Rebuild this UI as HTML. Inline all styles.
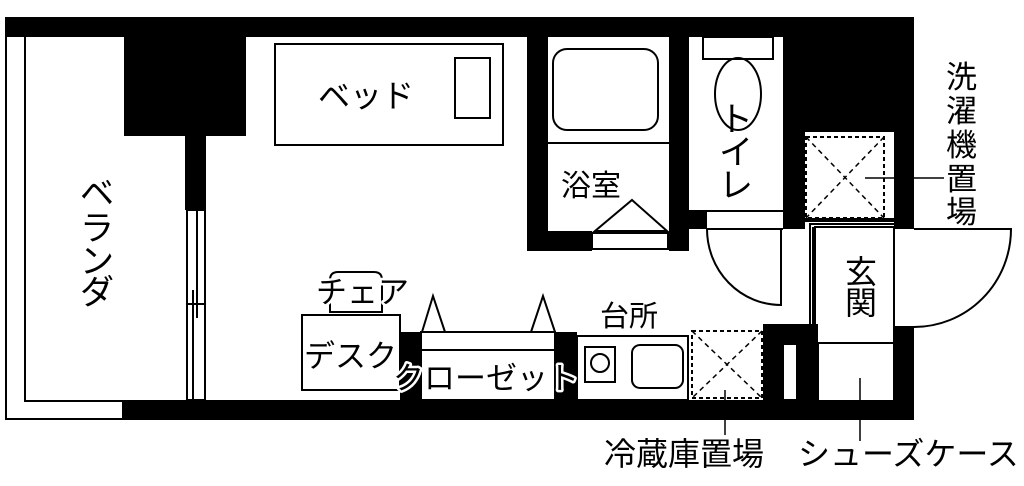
<!DOCTYPE html>
<html><head><meta charset="utf-8"><style>
html,body{margin:0;padding:0;background:#fff;}
svg{display:block;}
text{font-family:"Liberation Sans","Noto Sans CJK JP",sans-serif;fill:#000;}
.h{stroke:#fff;stroke-width:5;paint-order:stroke;stroke-linejoin:round;}
</style></head><body>
<svg width="1024" height="486" viewBox="0 0 1024 486" xmlns="http://www.w3.org/2000/svg">
<g fill="#000">
<rect x="5" y="17" width="909" height="20"/>
<rect x="124" y="37" width="122" height="99"/>
<rect x="185" y="136" width="21" height="74"/>
<rect x="122" y="400" width="792" height="20"/>
<rect x="894" y="37" width="20" height="192"/>
<rect x="894" y="327" width="20" height="93"/>
<rect x="783" y="37" width="111" height="95"/>
<rect x="783" y="132" width="22" height="97"/>
<rect x="783" y="218" width="111" height="4"/>
<rect x="527" y="37" width="21" height="214"/>
<rect x="548" y="231" width="44" height="20"/>
<rect x="669" y="37" width="20" height="214"/>
<rect x="689" y="211" width="18" height="18"/>
<rect x="400" y="332" width="21" height="68"/>
<rect x="555" y="332" width="22" height="68"/>
<rect x="763" y="324" width="55" height="76"/>
</g>
<g fill="none" stroke="#000" stroke-width="2">
<path d="M122 419 H6 V37 M25 37 V401 H185"/>
<rect x="187" y="210" width="18" height="190"/>
<line x1="197" y1="210" x2="197" y2="318"/>
<line x1="193" y1="290" x2="193" y2="400"/>
<line x1="187" y1="304" x2="205" y2="304"/>
<rect x="275" y="44" width="228" height="101"/>
<rect x="455" y="58" width="35" height="60"/>
<path d="M330 312 V280 Q330 272 338 272 H374 Q382 272 382 280 V312 Z"/>
<rect x="302" y="315" width="98" height="75"/>
<rect x="421" y="332" width="134" height="68"/>
<line x1="421" y1="350" x2="555" y2="350"/>
<path d="M422 332 L433 296 L445 332 M531 332 L543 296 L555 332"/>
<rect x="577" y="336" width="111" height="64"/>
<rect x="585" y="347" width="30" height="35"/>
<circle cx="600" cy="363" r="9"/>
<rect x="632" y="345" width="51" height="43" rx="8"/>
<rect x="553" y="49" width="105" height="81" rx="14"/>
<line x1="548" y1="143" x2="669" y2="143"/>
<rect x="592" y="233" width="76" height="16"/>
<path d="M595 231 L632 200 L667 231 Z"/>
<rect x="703" y="37" width="70" height="22"/>
<ellipse cx="738" cy="94" rx="23" ry="36"/>
<line x1="689" y1="211" x2="783" y2="211"/>
<line x1="707" y1="229" x2="783" y2="229"/>
<path d="M707 229 A74 76 0 0 0 781 305 V229"/>
<rect x="806" y="137" width="78" height="81" stroke-dasharray="4 3"/>
<path d="M806 137 L884 218 M884 137 L806 218" stroke-width="1.5" stroke-dasharray="5 4"/>
<line x1="865" y1="178" x2="894" y2="178" stroke-width="1.5"/>
<line x1="914" y1="178" x2="944" y2="178" stroke-width="1.5"/>
<path d="M810 324 V224 H894 M813 324 V227"/>
<rect x="815" y="227" width="79" height="116"/>
<path d="M818 400 V343 M894 343 V400"/>
<line x1="860" y1="378" x2="860" y2="400" stroke-width="1.5"/>
<line x1="860" y1="420" x2="860" y2="441" stroke-width="1.5"/>
<rect x="783" y="344" width="14" height="56" fill="#fff"/>
<path d="M914 229 H1011 A97 98 0 0 1 914 327 H894"/>
<rect x="692" y="331" width="70" height="67" stroke-dasharray="4 3"/>
<path d="M692 331 L762 398 M762 331 L692 398" stroke-width="1.5" stroke-dasharray="5 4"/>
<line x1="725" y1="390" x2="725" y2="400" stroke-width="1.5"/>
<line x1="725" y1="420" x2="725" y2="435" stroke-width="1.5"/>
</g>
<g font-size="31">
<text x="318" y="107" font-size="32">ベッド</text>
<text x="561" y="196" font-size="30">浴室</text>
<text x="600" y="326" font-size="29">台所</text>
<text x="316" y="303" class="h">チェア</text>
<text x="304" y="367" class="h">デスク</text>
<text x="393" y="389" class="h" font-size="31">クローゼット</text>
<text x="604" y="465" font-size="32">冷蔵庫置場</text>
<text x="798" y="465" font-size="32">シューズケース</text>
<text x="80" y="205" font-size="34">ベ</text>
<text x="80" y="240" font-size="34">ラ</text>
<text x="80" y="273" font-size="34">ン</text>
<text x="80" y="304" font-size="34">ダ</text>
<text x="719" y="131" font-size="34">ト</text>
<text x="719" y="164" font-size="34">イ</text>
<text x="719" y="197" font-size="34">レ</text>
<text x="845" y="283" font-size="32">玄</text>
<text x="845" y="314" font-size="32">関</text>
<g font-size="31">
<text x="946" y="88">洗</text>
<text x="946" y="122">濯</text>
<text x="946" y="156">機</text>
<text x="946" y="190">置</text>
<text x="946" y="223">場</text>
</g>
</g>
</svg>
</body></html>
